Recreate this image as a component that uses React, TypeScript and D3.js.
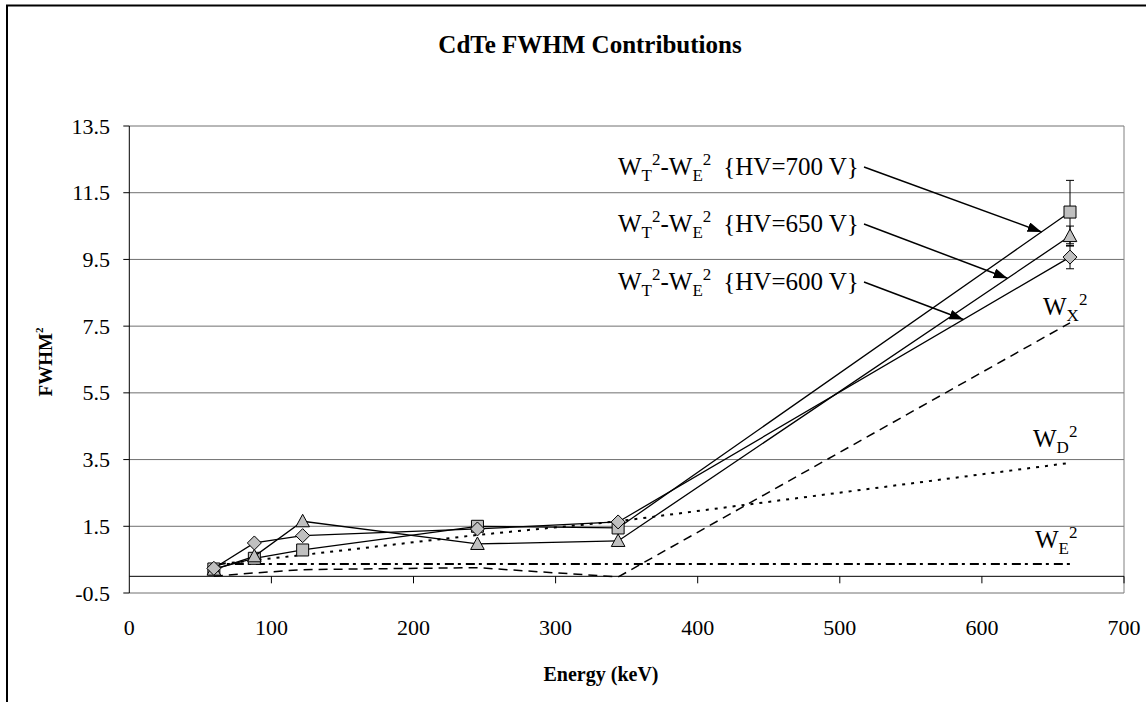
import React from 'react';
import * as d3 from 'd3';

// energies of the measured lines (keV)
const energies = [59.5, 88, 122, 245, 344, 662];

// W_T^2 - W_E^2 for three bias voltages
const hv700 = [0.22, 0.54, 0.79, 1.5, 1.45, 10.92];
const hv650 = [0.2, 0.6, 1.65, 0.97, 1.06, 10.2];
const hv600 = [0.24, 1.0, 1.22, 1.42, 1.63, 9.57];
const err700 = [0, 0, 0, 0, 0, 0.95];
const err650 = [0, 0, 0, 0, 0, 0.3];
const err600 = [0, 0, 0, 0, 0, 0.35];

// model contributions
const wx = [0.0, 0.1, 0.2, 0.26, -0.02, 7.6];
const wd = [0.35, 0.48, 0.64, 1.24, 1.65, 3.4];
const we = [0.37, 0.37, 0.37, 0.37, 0.37, 0.37];

const yTicks = [-0.5, 1.5, 3.5, 5.5, 7.5, 9.5, 11.5, 13.5];
const xTicks = [0, 100, 200, 300, 400, 500, 600, 700];

const hvLabels = ['700', '650', '600'];
const arrowAt = [642, 618, 587];

const FONT = "'Liberation Serif', 'Times New Roman', serif";

const x = d3.scaleLinear().domain([0, 700]).range([129.3, 1124]);
const y = d3.scaleLinear().domain([-0.5, 13.5]).range([593, 126]);

const line = d3
  .line<number>()
  .x((_, i) => x(energies[i]))
  .y(d => y(d));

const square = 'M-6,-6L6,-6L6,6L-6,6Z';
const diamond = 'M0,-7L7,0L0,7L-7,0Z';
const triangle = 'M0,-7L6.8,5.5L-6.8,5.5Z';

type Series = { vals: number[]; err: number[]; shape: string };
const hvSeries: Series[] = [
  { vals: hv700, err: err700, shape: square },
  { vals: hv650, err: err650, shape: triangle },
  { vals: hv600, err: err600, shape: diamond },
];

const interp = (vals: number[], e: number) =>
  d3.scaleLinear().domain(energies).range(vals)(e);

const App: React.FC = () => {
  const x0 = x.range()[0];
  const x1 = x.range()[1];
  return (
    <svg
      width={1146}
      height={702}
      style={{ position: 'absolute', left: 0, top: 0, background: '#fff', fontFamily: FONT }}
    >
      <defs>
        <marker
          id="arr"
          viewBox="0 0 14 10"
          refX={14}
          refY={5}
          markerWidth={14}
          markerHeight={10}
          markerUnits="userSpaceOnUse"
          orient="auto"
        >
          <path d="M0,0L14,5L0,10Z" fill="#000" />
        </marker>
      </defs>
      <rect x={7} y={5.5} width={1200} height={800} fill="none" stroke="#000" strokeWidth={2} />

      <text x={590} y={53} textAnchor="middle" fontSize={25} fontWeight="bold">
        CdTe FWHM Contributions
      </text>

      {/* gridlines */}
      {yTicks.map(t => (
        <line key={t} x1={x0} x2={x1} y1={y(t)} y2={y(t)} stroke="#707070" strokeWidth={1} />
      ))}
      <line x1={x1} x2={x1} y1={y(13.5)} y2={y(-0.5)} stroke="#808080" strokeWidth={1} />

      {/* y axis */}
      <line x1={x0} x2={x0} y1={y(13.5)} y2={y(-0.5)} stroke="#000" strokeWidth={1} />
      {yTicks.map(t => (
        <g key={t}>
          <line x1={x0 - 6} x2={x0} y1={y(t)} y2={y(t)} stroke="#000" />
          <text x={110} y={y(t) + 7.5} textAnchor="end" fontSize={22}>
            {t}
          </text>
        </g>
      ))}

      {/* x axis at zero */}
      <line x1={x0} x2={x1} y1={y(0)} y2={y(0)} stroke="#000" strokeWidth={1} />
      {xTicks.map(t => (
        <g key={t}>
          {t > 0 && <line x1={x(t)} x2={x(t)} y1={y(0)} y2={y(0) + 7} stroke="#000" />}
          <text x={x(t)} y={635} textAnchor="middle" fontSize={22}>
            {t}
          </text>
        </g>
      ))}

      <text x={601} y={681} textAnchor="middle" fontSize={20} fontWeight="bold">
        Energy (keV)
      </text>
      <text
        transform="translate(52,362) rotate(-90)"
        textAnchor="middle"
        fontSize={19}
        fontWeight="bold"
      >
        FWHM
        <tspan fontSize={11} dy={-9}>
          2
        </tspan>
      </text>

      {/* model curves */}
      <path d={line(wx)!} fill="none" stroke="#000" strokeWidth={1.5} strokeDasharray="9,6" />
      <path d={line(wd)!} fill="none" stroke="#000" strokeWidth={2} strokeDasharray="3,6" />
      <path d={line(we)!} fill="none" stroke="#000" strokeWidth={2} strokeDasharray="9,4,3,5" />

      {/* measured series */}
      {hvSeries.map((s, k) => (
        <g key={k}>
          <path d={line(s.vals)!} fill="none" stroke="#000" strokeWidth={1.3} />
          {s.vals.map((v, i) =>
            s.err[i] > 0 ? (
              <g key={'e' + i} stroke="#000" strokeWidth={1}>
                <line x1={x(energies[i])} x2={x(energies[i])} y1={y(v + s.err[i])} y2={y(v - s.err[i])} />
                <line x1={x(energies[i]) - 4} x2={x(energies[i]) + 4} y1={y(v + s.err[i])} y2={y(v + s.err[i])} />
                <line x1={x(energies[i]) - 4} x2={x(energies[i]) + 4} y1={y(v - s.err[i])} y2={y(v - s.err[i])} />
              </g>
            ) : null
          )}
          {s.vals.map((v, i) => (
            <path
              key={i}
              d={s.shape}
              transform={`translate(${x(energies[i])},${y(v)})`}
              fill="#c0c0c0"
              stroke="#000"
              strokeWidth={1}
            />
          ))}
        </g>
      ))}

      {/* annotations */}
      {hvLabels.map((hv, k) => {
        const by = [175, 232, 290][k];
        const tx = arrowAt[k];
        const ty = interp(hvSeries[k].vals, tx);
        return (
          <g key={hv}>
            <text x={618} y={by} fontSize={25}>
              W<tspan fontSize={17} dy={6}>T</tspan>
              <tspan fontSize={17} dy={-16}>2</tspan>
              <tspan fontSize={25} dy={10}>-W</tspan>
              <tspan fontSize={17} dy={6}>E</tspan>
              <tspan fontSize={17} dy={-16}>2</tspan>
              <tspan fontSize={25} dy={10} dx={12}>{`{HV=${hv} V}`}</tspan>
            </text>
            <line
              x1={864}
              y1={by - 8}
              x2={x(tx)}
              y2={y(ty)}
              stroke="#000"
              strokeWidth={1.5}
              markerEnd="url(#arr)"
            />
          </g>
        );
      })}

      {[
        { sub: 'X', by: 315, bx: 1043 },
        { sub: 'D', by: 447, bx: 1033 },
        { sub: 'E', by: 548, bx: 1035 },
      ].map(l => (
        <text key={l.sub} x={l.bx} y={l.by} fontSize={25}>
          W<tspan fontSize={17} dy={6}>{l.sub}</tspan>
          <tspan fontSize={17} dy={-16}>2</tspan>
        </text>
      ))}
    </svg>
  );
};

export default App;
